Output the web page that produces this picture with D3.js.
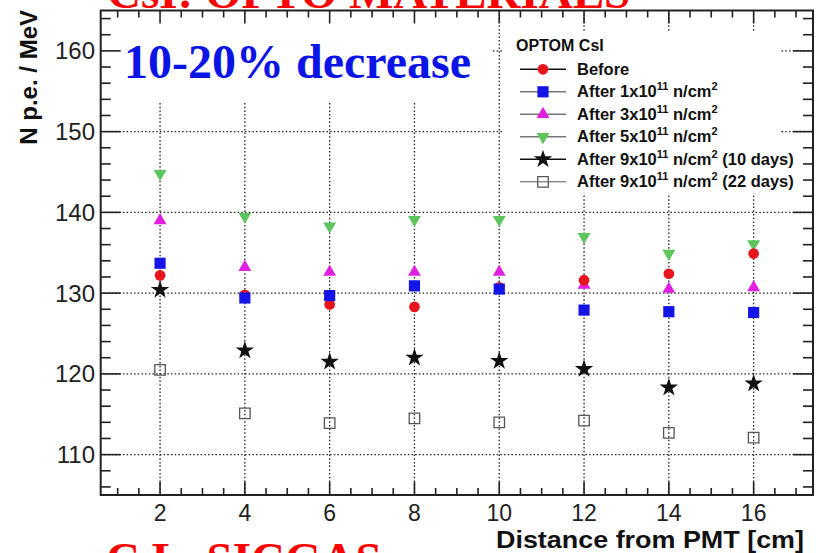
<!DOCTYPE html>
<html>
<head>
<meta charset="utf-8">
<script src="https://cdn.jsdelivr.net/npm/d3@7"></script>
<style>
  body { margin: 0; background: #fff; }
  svg { display: block; }
</style>
</head>
<body>
<div id="chart"></div>
<script>
// light yield vs distance from PMT, OPTOM CsI crystal, before / after irradiation
var distances = [2, 4, 6, 8, 10, 12, 14, 16];

var before   = [132.2, 129.8, 128.6, 128.3, 130.7, 131.6, 132.4, 134.9];
var after1   = [133.7, 129.4, 129.7, 130.9, 130.5, 127.9, 127.7, 127.6];
var after3   = [139.0, 133.2, 132.6, 132.6, 132.6, 131.0, 130.5, 130.7];
var after5   = [144.8, 139.5, 138.3, 139.1, 139.1, 137.0, 134.9, 136.1];
var after9d10 = [130.4, 122.9, 121.5, 122.0, 121.6, 120.6, 118.3, 118.8];
var after9d22 = [120.5, 115.1, 113.9, 114.5, 114.0, 114.2, 112.7, 112.1];

var legendTitle = "OPTOM CsI";
var legendLabels = [
  ["Before"],
  ["After 1x10", "11", " n/cm", "2"],
  ["After 3x10", "11", " n/cm", "2"],
  ["After 5x10", "11", " n/cm", "2"],
  ["After 9x10", "11", " n/cm", "2", " (10 days)"],
  ["After 9x10", "11", " n/cm", "2", " (22 days)"]
];

var xTicks = [2, 4, 6, 8, 10, 12, 14, 16];
var yTicks = [110, 120, 130, 140, 150, 160];

(function() {
  var W = 816, H = 553;
  var frame = { left: 100.7, right: 813, top: 10.5, bottom: 495 };

  var svg = d3.select("#chart")
    .append("svg")
    .attr("width", W)
    .attr("height", H);

  var xScale = d3.scaleLinear()
    .domain([0.6, 17.4])
    .range([frame.left, frame.right]);

  var yScale = d3.scaleLinear()
    .domain([105, 165])
    .range([frame.bottom, frame.top]);

  // grid
  svg.selectAll(".vgrid")
    .data(xTicks)
    .enter()
    .append("line")
    .attr("class", "vgrid")
    .attr("x1", function(d) { return xScale(d); })
    .attr("x2", function(d) { return xScale(d); })
    .attr("y1", frame.top)
    .attr("y2", frame.bottom)
    .attr("stroke", "#222")
    .attr("stroke-width", 1.3)
    .attr("stroke-dasharray", "1.5,2.2");

  svg.selectAll(".hgrid")
    .data(yTicks)
    .enter()
    .append("line")
    .attr("class", "hgrid")
    .attr("x1", frame.left)
    .attr("x2", frame.right)
    .attr("y1", function(d) { return yScale(d); })
    .attr("y2", function(d) { return yScale(d); })
    .attr("stroke", "#222")
    .attr("stroke-width", 1.3)
    .attr("stroke-dasharray", "1.5,2.2");

  // white boxes of the annotation and the legend hide the grid
  svg.append("rect")
    .attr("x", 103).attr("y", 13)
    .attr("width", 389).attr("height", 88)
    .attr("fill", "#fff");
  svg.append("rect")
    .attr("x", 502).attr("y", 32)
    .attr("width", 278).attr("height", 161)
    .attr("fill", "#fff");

  // frame
  svg.append("rect")
    .attr("x", frame.left)
    .attr("y", frame.top)
    .attr("width", frame.right - frame.left)
    .attr("height", frame.bottom - frame.top)
    .attr("fill", "none")
    .attr("stroke", "#222")
    .attr("stroke-width", 2);

  // ticks, drawn inward on all four sides like ROOT does
  var xMinor = d3.range(1, 17.5, 0.5);
  var yMinor = d3.range(106, 165, 2);

  function isMajorX(d) { return xTicks.indexOf(d) >= 0; }
  function isMajorY(d) { return yTicks.indexOf(d) >= 0; }

  var tickG = svg.append("g")
    .attr("stroke", "#222")
    .attr("stroke-width", 1.6);

  xMinor.forEach(function(d) {
    var len = isMajorX(d) ? 13 : 7;
    tickG.append("line")
      .attr("x1", xScale(d)).attr("x2", xScale(d))
      .attr("y1", frame.bottom).attr("y2", frame.bottom - len);
    tickG.append("line")
      .attr("x1", xScale(d)).attr("x2", xScale(d))
      .attr("y1", frame.top).attr("y2", frame.top + len);
  });

  yMinor.forEach(function(d) {
    var len = isMajorY(d) ? 20 : 10;
    tickG.append("line")
      .attr("x1", frame.left).attr("x2", frame.left + len)
      .attr("y1", yScale(d)).attr("y2", yScale(d));
    tickG.append("line")
      .attr("x1", frame.right).attr("x2", frame.right - len)
      .attr("y1", yScale(d)).attr("y2", yScale(d));
  });

  // tick labels
  svg.selectAll(".x-label")
    .data(xTicks)
    .enter()
    .append("text")
    .attr("class", "x-label")
    .attr("x", function(d) { return xScale(d); })
    .attr("y", 520.5)
    .attr("text-anchor", "middle")
    .attr("font-family", "Liberation Sans, Arial, sans-serif")
    .attr("font-size", 23)
    .attr("fill", "#222")
    .text(function(d) { return d; });

  svg.selectAll(".y-label")
    .data(yTicks)
    .enter()
    .append("text")
    .attr("class", "y-label")
    .attr("x", 95)
    .attr("y", function(d) { return yScale(d) + 8.5; })
    .attr("text-anchor", "end")
    .attr("font-family", "Liberation Sans, Arial, sans-serif")
    .attr("font-size", 24)
    .attr("fill", "#222")
    .text(function(d) { return d; });

  // axis titles
  svg.append("text")
    .attr("transform", "translate(37,10) rotate(-90)")
    .attr("text-anchor", "end")
    .attr("font-family", "Liberation Sans, Arial, sans-serif")
    .attr("font-weight", "bold")
    .attr("font-size", 24)
    .attr("fill", "#111")
    .text("N p.e. / MeV");

  svg.append("text")
    .attr("x", 496)
    .attr("y", 547.5)
    .attr("textLength", 308)
    .attr("lengthAdjust", "spacingAndGlyphs")
    .attr("font-family", "Liberation Sans, Arial, sans-serif")
    .attr("font-weight", "bold")
    .attr("font-size", 24)
    .attr("fill", "#111")
    .text("Distance from PMT [cm]");

  // series and their markers
  var series = [
    { values: before,    color: "#e8141c", symbol: d3.symbolCircle,   size: 90,  fill: true,  rot: 0,   line: "#111" },
    { values: after1,    color: "#1414e6", symbol: d3.symbolSquare,   size: 125, fill: true,  rot: 0,   line: "#777" },
    { values: after3,    color: "#e020e0", symbol: d3.symbolTriangle, size: 72,  fill: true,  rot: 0,   line: "#777" },
    { values: after5,    color: "#5cc65c", symbol: d3.symbolTriangle, size: 72,  fill: true,  rot: 180, line: "#777" },
    { values: after9d10, color: "#111111", symbol: d3.symbolStar,     size: 105, fill: true,  rot: 0,   line: "#111" },
    { values: after9d22, color: "#555555", symbol: d3.symbolSquare,   size: 110, fill: false, rot: 0,   line: "#555" }
  ];

  function drawMarker(g, s, x, y) {
    g.append("path")
      .attr("d", d3.symbol().type(s.symbol).size(s.size)())
      .attr("transform", "translate(" + x + "," + y + ") rotate(" + s.rot + ")")
      .attr("fill", s.fill ? s.color : "#fff")
      .attr("fill-opacity", s.fill ? 1 : 0)
      .attr("stroke", s.fill ? "none" : s.color)
      .attr("stroke-width", 1.3);
  }

  // draw the open squares first, then the others, "after 1" ends on top
  var order = [5, 4, 3, 2, 0, 1];
  var dataG = svg.append("g");
  order.forEach(function(i) {
    var s = series[i];
    s.values.forEach(function(v, j) {
      drawMarker(dataG, s, xScale(distances[j]), yScale(v));
    });
  });

  // legend
  var legend = svg.append("g")
    .attr("font-family", "Liberation Sans, Arial, sans-serif")
    .attr("font-weight", "bold")
    .attr("fill", "#111");

  legend.append("text")
    .attr("x", 516)
    .attr("y", 51)
    .attr("font-size", 16)
    .text(legendTitle);

  legendLabels.forEach(function(parts, i) {
    var yy = 69.3 + i * 22.5;
    var s = series[i];
    legend.append("line")
      .attr("x1", 520).attr("x2", 566)
      .attr("y1", yy).attr("y2", yy)
      .attr("stroke", s.line)
      .attr("stroke-width", i === 5 ? 1 : 1.6);
    drawMarker(legend, s, 543, yy);

    var t = legend.append("text")
      .attr("x", 577)
      .attr("y", yy + 5.5)
      .attr("font-size", 16.5);
    parts.forEach(function(p, k) {
      var sup = (k === 1 || k === 3);
      t.append("tspan")
        .attr("font-size", sup ? 11 : 16.5)
        .attr("dy", sup ? -7 : (k > 0 ? 7 : 0))
        .text(p);
    });
  });

  // slide overlays: annotation and the red slide texts, clipped by the page edge as in the slide
  svg.append("text")
    .attr("x", 124)
    .attr("y", 78)
    .attr("font-family", "Liberation Serif, Times New Roman, serif")
    .attr("font-weight", "bold")
    .attr("font-size", 48)
    .attr("fill", "#0a14e6")
    .text("10-20% decrease");

  svg.append("text")
    .attr("x", 107)
    .attr("y", 8)
    .attr("font-family", "Liberation Serif, Times New Roman, serif")
    .attr("font-weight", "bold")
    .attr("font-size", 47)
    .attr("fill", "#ff0000")
    .text("CsI: OPTO MATERIALS");

  svg.append("text")
    .attr("x", 106)
    .attr("y", 575)
    .attr("font-family", "Liberation Serif, Times New Roman, serif")
    .attr("font-weight", "bold")
    .attr("font-size", 47)
    .attr("fill", "#ff0000")
    .text("C.L. SICGAS");
})();
</script>
</body>
</html>
